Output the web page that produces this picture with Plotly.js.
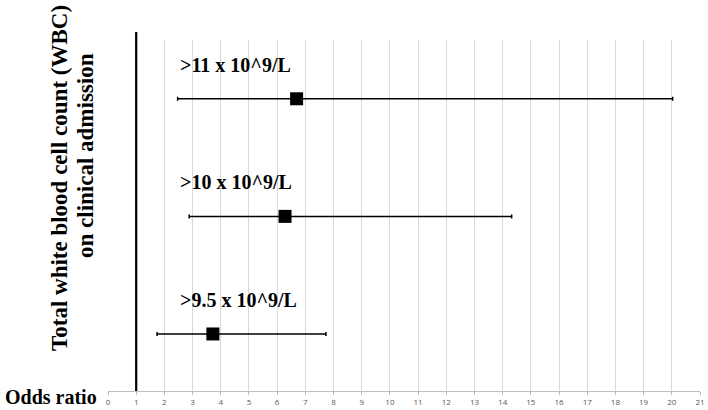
<!DOCTYPE html>
<html>
<head>
<meta charset="utf-8">
<script src="https://cdn.plot.ly/plotly-3.0.1.min.js"></script>
<style>
  html, body { margin: 0; padding: 0; background: #fff; }
  #forest { width: 708px; height: 410px; }
</style>
</head>
<body>
<div id="forest"></div>
<script>
// WBC thresholds, bottom to top
var categories = ['>9.5 x 10^9/L', '>10 x 10^9/L', '>11 x 10^9/L'];
var oddsRatio = [3.72, 6.28, 6.69];
var ciLow = [1.74, 2.88, 2.47];
var ciHigh = [7.73, 14.32, 20.03];
var xTicks = [0, 1, 2, 3, 4, 5, 6, 7, 8, 9, 10, 11, 12, 13, 14, 15, 16, 17, 18, 19, 20, 21];

var ypos = categories.map(function (c, i) { return i + 1; });

var trace = {
    x: oddsRatio,
    y: ypos,
    type: 'scatter',
    mode: 'markers',
    marker: { symbol: 'square', size: 13, color: '#000' },
    error_x: {
        type: 'data',
        symmetric: false,
        array: oddsRatio.map(function (v, i) { return ciHigh[i] - v; }),
        arrayminus: oddsRatio.map(function (v, i) { return v - ciLow[i]; }),
        color: '#000',
        thickness: 1.5,
        width: 2
    },
    hoverinfo: 'skip',
    showlegend: false
};

var serif = 'Liberation Serif, Times New Roman, serif';

var annotations = categories.map(function (c, i) {
    return {
        text: '<b>' + c.replace('>', '&gt;') + '</b>',
        x: 2.48, y: ypos[i], xref: 'x', yref: 'y',
        xanchor: 'left', yanchor: 'middle', yshift: 34,
        showarrow: false,
        font: { family: serif, size: 20, color: '#000' }
    };
});

annotations.push({
    text: '<b>Total white blood cell count (WBC)</b>',
    xref: 'paper', yref: 'paper',
    x: (59 - 108) / 592, y: (391 - 178) / 351,
    xanchor: 'center', yanchor: 'middle', textangle: -90,
    showarrow: false,
    font: { family: serif, size: 23, color: '#000' }
});
annotations.push({
    text: '<b>on clinical admission</b>',
    xref: 'paper', yref: 'paper',
    x: (85 - 108) / 592, y: (391 - 156) / 351,
    xanchor: 'center', yanchor: 'middle', textangle: -90,
    showarrow: false,
    font: { family: serif, size: 23, color: '#000' }
});
annotations.push({
    text: '<b>Odds ratio</b>',
    xref: 'paper', yref: 'paper',
    x: (3 - 108) / 592, y: (391 - 397) / 351,
    xanchor: 'left', yanchor: 'middle',
    showarrow: false,
    font: { family: serif, size: 20, color: '#000' }
});

var layout = {
    width: 708,
    height: 410,
    margin: { l: 108, r: 8, t: 40, b: 19 },
    paper_bgcolor: '#fff',
    plot_bgcolor: '#fff',
    xaxis: {
        range: [0, 21],
        tickvals: xTicks,
        ticktext: xTicks.map(String),
        showgrid: true,
        gridcolor: '#d9d9d9',
        gridwidth: 1,
        zeroline: false,
        showline: true,
        linecolor: '#bfbfbf',
        linewidth: 1,
        ticks: 'outside',
        ticklen: 3,
        tickcolor: '#bfbfbf',
        tickfont: { family: 'Open Sans, sans-serif', size: 8, color: '#595959' },
        fixedrange: true
    },
    yaxis: {
        range: [0.515, 3.5],
        showgrid: false,
        zeroline: false,
        showline: false,
        showticklabels: false,
        ticks: '',
        fixedrange: true
    },
    shapes: [{
        type: 'line',
        xref: 'x', yref: 'paper',
        x0: 1, x1: 1, y0: 0, y1: 1.023,
        line: { color: '#000', width: 2.2 }
    }],
    annotations: annotations
};

Plotly.newPlot('forest', [trace], layout, { displayModeBar: false, staticPlot: true });
</script>
</body>
</html>
